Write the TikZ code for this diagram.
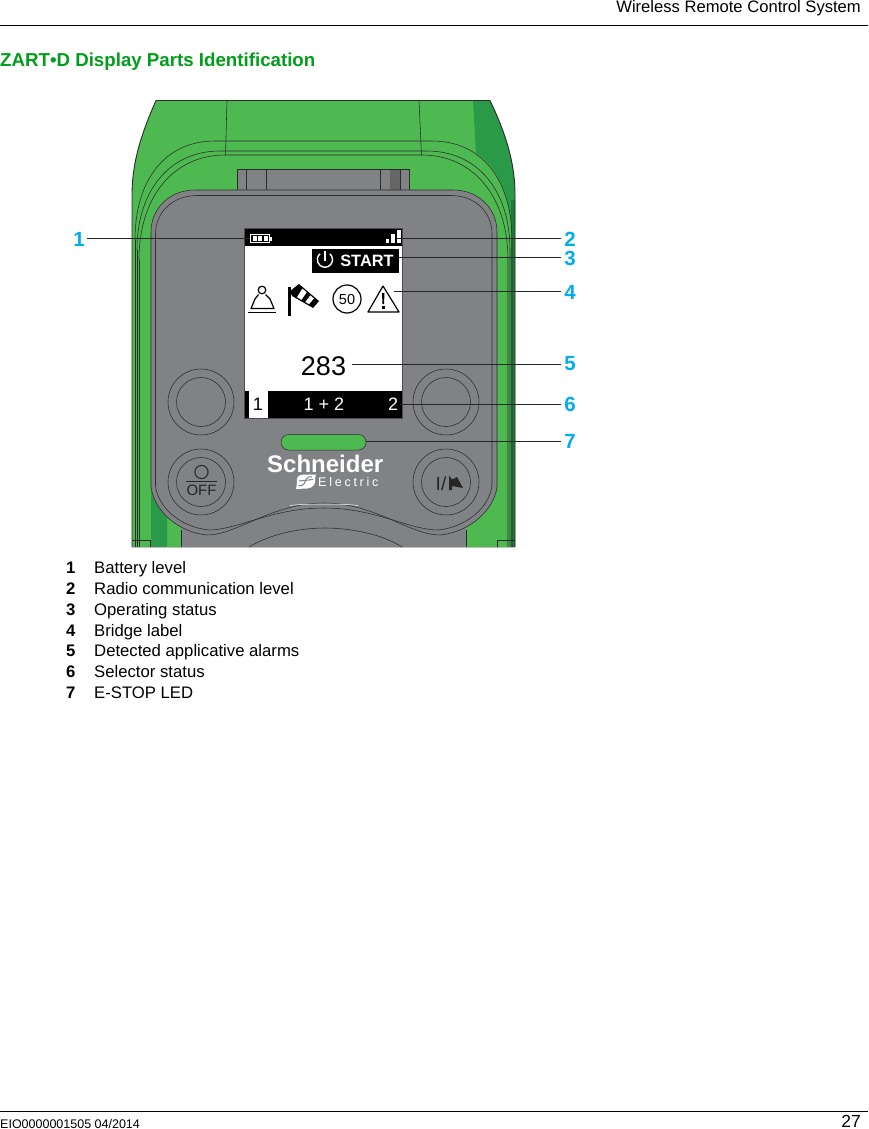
\documentclass[tikz,border=0pt]{standalone}
\usepackage{fontspec}
\setmainfont{Liberation Sans}
\definecolor{zgreen}{HTML}{4DB950}
\definecolor{zdark}{HTML}{2A9A48}
\definecolor{zdeep}{HTML}{1F7A3A}
\definecolor{zgray}{HTML}{808285}
\definecolor{zline}{HTML}{2B2B2B}
\definecolor{zcyan}{HTML}{00AEEF}
\definecolor{ztitle}{HTML}{009E1A}
\newcommand{\fs}[1]{\fontsize{#1}{#1}\selectfont}
\tikzset{
  thinl/.style={draw=zline,line width=.55pt},
  lead/.style={draw=black!85,line width=1.2pt},
  callout/.style={text=zcyan,font=\fs{20.5}\bfseries,inner sep=0pt},
  itemnum/.style={font=\fs{16.7}\bfseries,anchor=base west,inner sep=0pt},
  itemtxt/.style={font=\fs{16.7},anchor=base west,inner sep=0pt},
  txt/.style={inner sep=0pt,anchor=base},
  btn/.style={thinl,fill=zgray,circle,inner sep=0pt},
}
\begin{document}
\begin{tikzpicture}[x=1pt,y=-1pt]
\path[use as bounding box,fill=white] (0,0) rectangle (868,1129);
% page furniture
\coordinate (hl) at (0,25.5); \coordinate (hr) at (868,25.5);
\draw[black,line width=.8pt] (hl) -- (hr);
\coordinate (fl) at (0,1111); \coordinate (fr) at (868,1111);
\draw[black,line width=.8pt] (fl) -- (fr);
\node[anchor=base east,inner sep=0pt,font=\fs{16.6}] (head) at (861,12.5) {Wireless Remote Control System};
\node[anchor=base west,inner sep=0pt,font=\fs{18.7}\bfseries,text=ztitle] (title) at (0,66.5) {ZART•D Display Parts Identification};
\node[anchor=base west,inner sep=0pt,font=\fs{12.5}] (doc) at (0,1128) {EIO0000001505 04/2014};
\node[anchor=base east,inner sep=0pt,font=\fs{17.5}] (page) at (861,1127.5) {27};

% body
\begin{scope}
\path[clip] (156,100.5) .. controls (143,130) and (132,160) .. (132,195) -- (132,547) -- (515,547) -- (515,195) .. controls (515,160) and (504,130) .. (490,100.5) -- cycle;
\fill[zgreen] (120,90) rectangle (530,550);
% dark shading at top right
\fill[zdark] (473,100) -- (476,153) .. controls (495,165) and (508,190) .. (511,225) -- (520,225) -- (520,100) -- cycle;
\fill[zdeep] (511,200) rectangle (516,547);
\fill[zdark] (151,490) -- (151,547) -- (167,547) -- (167,517) -- cycle;
% contours
\draw[thinl] (135,240) .. controls (135,180) and (165,141) .. (215,141) -- (432,141) .. controls (482,141) and (512,180) .. (512,240) -- (512,547);
\draw[thinl] (135,240) -- (135,547);
\draw[thinl] (137,250) .. controls (137,190) and (170,151) .. (220,151) -- (427,151) .. controls (477,151) and (510,190) .. (510,250) -- (510,547);
\draw[thinl] (137,250) -- (137,547);
\draw[thinl] (139,260) .. controls (139,195) and (175,155) .. (225,155) -- (422,155) .. controls (472,155) and (508,195) .. (508,260) -- (508,547);
\draw[thinl] (139,260) -- (139,547);
\draw[thinl] (227,101) -- (225.5,155);
\draw[thinl] (419,101) -- (421.5,155);
\draw[thinl] (132,540) -- (150,540) -- (150,547);
\draw[thinl] (515,540) -- (497,540) -- (497,547);
\end{scope}
\draw[zline,line width=.9pt] (132,547) -- (132,195) .. controls (132,160) and (143,130) .. (156,100.5) -- (490,100.5) .. controls (504,130) and (515,160) .. (515,195) -- (515,547);
\draw[gray!50,line width=.6pt] (132,547) -- (515,547);

% tab
\fill[zgray] (237.5,169.5) rectangle (409,192);
\fill[black!60] (390,169.5) rectangle (400,192);
\draw[thinl] (237.5,190) -- (237.5,169.5) -- (409,169.5) -- (409,190);
\foreach \xx in {246,266,380,400} \draw[thinl] (\xx,169.5) -- (\xx,190);

% lower grey strip
\fill[zgray] (181,500) rectangle (466,547);
\draw[thinl] (181,530) -- (181,547);
\draw[thinl] (466,530) -- (466,547);

% panel
\path[fill=zgray,thinl] (151,232) .. controls (151,208) and (170,190) .. (195,190) -- (453,190) .. controls (478,190) and (497,208) .. (497,232) -- (497,487)
  .. controls (494,510) and (470,532) .. (440,535)
  .. controls (410,535) and (375,503) .. (324,503)
  .. controls (272,503) and (237,535) .. (207,535)
  .. controls (177,532) and (154,510) .. (151,487) -- cycle;
\path[thinl] (155.5,234) .. controls (155.5,212) and (173,195.5) .. (197,195.5) -- (451,195.5) .. controls (475,195.5) and (492,212) .. (492,234) -- (492,485)
  .. controls (490,506) and (468,527) .. (438,530)
  .. controls (410,530) and (375,508) .. (324,508)
  .. controls (272,508) and (237,530) .. (209,530)
  .. controls (179,527) and (157,506) .. (155.5,485) -- cycle;
\draw[white,line width=.5pt] (290,505.5) .. controls (305,503.5) and (343,503.5) .. (358,505.5);
% lower arc
\draw[thinl] (249,547) .. controls (270,534) and (300,528) .. (325,528) .. controls (350,528) and (382,534) .. (402,547);

% screen
\fill[white] (244.5,228.5) rectangle (402.5,418);
\fill[black] (244.5,228.5) rectangle (402.5,245.5);
\fill[black] (244.5,390.5) rectangle (402.5,418);
\fill[white] (249,390.5) rectangle (267.5,418);
\draw[black!70,line width=.5pt] (244.5,228.5) rectangle (402.5,418);

% battery
\draw[white,line width=.9pt] (250.5,234.5) rectangle (269,242.5);
\fill[white] (269,236.5) rectangle (271.5,240.5);
\fill[white] (252.5,236) rectangle (256.5,241);
\fill[white] (258,236) rectangle (262,241);
\fill[white] (263.5,236) rectangle (267.5,241);
% signal
\fill[white] (385.5,238.5) rectangle (389,243);
\fill[white] (391,233.5) rectangle (395,243);
\fill[white] (397,229.5) rectangle (400.5,243);

% start
\fill[black] (311.5,249) rectangle (398.5,272.5);
\draw[white,line width=1.4pt] (329.8,253.8) arc[start angle=-50,end angle=230,radius=7.6];
\draw[white,line width=1.6pt] (325,251) -- (325,261);
\node[txt,text=white,font=\fs{16.4}\bfseries] (start) at (367,266) {START};

% weight
\draw[black,line width=1.2pt] (262,290) circle[radius=3.8];
\draw[black,line width=1.2pt,line join=round] (258.5,294.5) -- (255,299) -- (251,308.5) -- (274,308.5) -- (270,299) -- (265.5,294.5);
\fill[black] (248,311.5) rectangle (276,313);
% windsock
\fill[black] (288,287) rectangle (290.5,315.5);
\fill[black] (290,291) -- (299,284) -- (319,301) -- (313,308) -- (292,296) -- cycle;
\fill[white] (302.3,288.6) -- (306.7,292.3) -- (301.5,299.8) -- (297,297.2) -- cycle;
\fill[white] (310.3,295.4) -- (313.9,298.5) -- (309.1,304.2) -- (305.3,302) -- cycle;
% 50
\draw[black,line width=1.2pt] (347,299) circle[radius=14];
\node[txt,font=\fs{14.5}] (fifty) at (347,304) {50};
% warning
\draw[black,line width=1.2pt,line join=round] (383,286) -- (368,312) -- (399,312) -- cycle;
\fill[black] (382,293) -- (384.5,293) -- (384,304) -- (382.5,304) -- cycle;
\fill[black] (382,306) rectangle (384.5,309);

% value & selector
\node[txt,font=\fs{27}] (alarm) at (323.5,375.5) {283};
\node[txt,font=\fs{18}] (selA) at (258,410.5) {1};
\node[txt,font=\fs{18},text=white] (selB) at (324,410) {1 + 2};
\node[txt,font=\fs{18},text=white] (selC) at (393,410) {2};

% buttons
\foreach \nm/\xx/\yy in {a/201/402,b/446/402,c/201/482,d/446/482}{
  \node[btn,minimum size=66pt] (out\nm) at (\xx,\yy) {};
  \node[btn,minimum size=49pt] (in\nm) at (\xx,\yy) {};
}
\draw[black!85,line width=1pt] (201.5,472) circle[radius=6.6];
\draw[black!85,line width=1.1pt] (186,481.5) -- (217,481.5);
\node[txt,font=\fs{15},text=black!85] (off) at (201.5,495) {OFF};
\node[txt,font=\fs{19},text=black!85] (ion) at (441,490) {I/};
\fill[black!85] (449,475.5) -- (449,490) -- (452,490) -- (452,486) -- (463,488) -- (457,477) -- (452,479.5) -- cycle;

% LED
\path[fill=zgreen,draw=zline,line width=.5pt,rounded corners=7.5pt] (281,434.5) rectangle (366,450);

% logo
\node[anchor=base west,inner sep=0pt,text=white,font=\fs{24}\bfseries] (logoa) at (267,472.5) {Schneider};
\node[anchor=base west,inner sep=0pt,text=white,font=\fs{12.5}\addfontfeature{LetterSpace=22}] (logob) at (318,486.5) {Electric};
\path[fill=white,draw=none] (304,474.5) .. controls (298,474.5) and (296,478) .. (297,483) -- (296,489) -- (307,488.5) .. controls (313,488) and (316,484) .. (315,479) -- (316,474.5) -- cycle;
\draw[zgray,line width=1pt] (312,477) .. controls (305,475.5) and (306,482) .. (304,484) .. controls (303,486) and (300,486) .. (298.5,485.5);
\draw[zgray,line width=1pt] (299,481) -- (313,479.5);

% anchors of the leaders
\coordinate (p1) at (250,238.5);
\coordinate (p2) at (397,238.5);
\coordinate (p3) at (398,257.5);
\coordinate (p4) at (394,291.5);
\coordinate (p5) at (352,364.5);
\coordinate (p6) at (400,404.5);
\coordinate (p7) at (366,441.5);

% callouts
\node[callout] (c1) at (79,239.5) {1};
\node[callout] (c2) at (570,239) {2};
\node[callout] (c3) at (570,258.5) {3};
\node[callout] (c4) at (570,292.5) {4};
\node[callout] (c5) at (570,364) {5};
\node[callout] (c6) at (570,404.5) {6};
\node[callout] (c7) at (570,441.5) {7};
\coordinate (e1) at (87,238.5);
\coordinate (e2) at (561,238.5);
\coordinate (e3) at (561,257.5);
\coordinate (e4) at (561,291.5);
\coordinate (e5) at (561,364.5);
\coordinate (e6) at (561,404.5);
\coordinate (e7) at (561,441.5);
\foreach \i in {1,...,7} \draw[lead] (e\i) -- (p\i);

% legend
\foreach \i/\yy/\t in {1/573/Battery level,2/594/Radio communication level,3/615/Operating status,4/636/Bridge label,5/656/Detected applicative alarms,6/677/Selector status,7/698/E-STOP LED}{
  \node[itemnum] (num\i) at (66,\yy) {\i};
  \node[itemtxt] (lab\i) at (94,\yy) {\t};
}
\end{tikzpicture}
\end{document}
